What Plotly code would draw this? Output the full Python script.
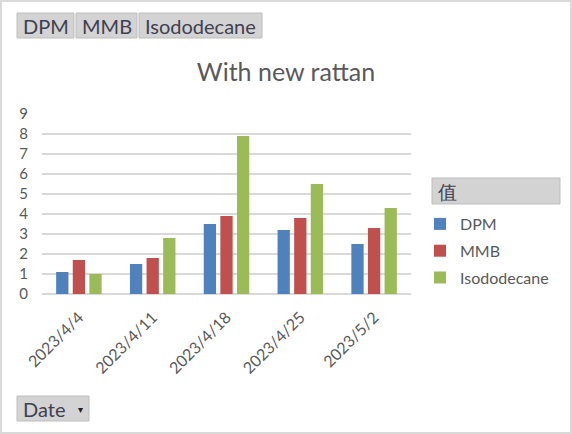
import plotly.graph_objects as go

dates = ["2023/4/4", "2023/4/11", "2023/4/18", "2023/4/25", "2023/5/2"]
dpm = [1.1, 1.5, 3.5, 3.2, 2.5]
mmb = [1.7, 1.8, 3.9, 3.8, 3.3]
isododecane = [1.0, 2.8, 7.9, 5.5, 4.3]

W, H = 572, 434
L, R, T, B = 42, 161, 114, 140
FONT = "Lato"
TXT = "#595959"


def px(x):
    return (x - L) / (W - L - R)


def py(y):
    return (H - B - y) / (H - T - B)


fig = go.Figure()
series = [("DPM", dpm, "#4F81BD"), ("MMB", mmb, "#C0504D"),
          ("Isododecane", isododecane, "#9BBB59")]
for name, vals, col in series:
    fig.add_trace(go.Bar(x=dates, y=vals, name=name, marker_color=col,
                         marker_line_width=0, legendgroup=name))

shapes = []
annots = []


def button(x0, y0, x1, y1, text, fs=20, arrow=False):
    shapes.append(dict(type="rect", xref="paper", yref="paper",
                       x0=px(x0), x1=px(x1), y0=py(y1), y1=py(y0),
                       fillcolor="#d3d3d3", line=dict(color="#bdbdbd", width=1)))
    annots.append(dict(xref="paper", yref="paper", x=px(x0 + 4), y=py((y0 + y1) / 2),
                       xanchor="left", yanchor="middle", text=text, showarrow=False,
                       font=dict(family=FONT, size=fs, color="#404050")))
    if arrow:
        annots.append(dict(xref="paper", yref="paper", x=px(x1 - 9), y=py((y0 + y1) / 2),
                           xanchor="center", yanchor="middle", text="▾", showarrow=False,
                           font=dict(size=10, color="#202020")))


button(17, 13, 74, 38, "DPM")
button(76, 13, 137, 38, "MMB")
button(139, 13, 262, 38, "Isododecane")
button(17, 396, 89, 421, "Date", arrow=True)
button(432, 178, 560, 204, "值", fs=19)

# outer frame
shapes.append(dict(type="rect", xref="paper", yref="paper",
                   x0=px(1), x1=px(W - 1), y0=py(H - 1), y1=py(1),
                   line=dict(color="#d9d9d9", width=2), layer="below"))

fig.update_layout(
    width=W, height=H,
    margin=dict(l=L, r=R, t=T, b=B),
    paper_bgcolor="white", plot_bgcolor="white",
    font=dict(family=FONT, color=TXT, size=15),
    title=dict(text="With new rattan", x=0.5, xref="container", xanchor="center",
               y=1 - 72 / H, yanchor="middle", font=dict(size=25, color=TXT)),
    barmode="group", bargap=0.325, bargroupgap=0.26,
    showlegend=True,
    legend=dict(x=px(420), y=py(207), xanchor="left", yanchor="top",
                font=dict(size=16, color=TXT), tracegroupgap=3,
                itemwidth=30, bgcolor="rgba(0,0,0,0)"),
    shapes=shapes, annotations=annots,
    xaxis=dict(type="category", tickangle=-45, showgrid=False, showline=False,
               ticks="", ticklabelstandoff=10, tickfont=dict(size=16, color=TXT)),
    yaxis=dict(range=[0, 9], dtick=1, showgrid=True, gridcolor="#d9d9d9", gridwidth=2,
               zeroline=True, zerolinecolor="#d9d9d9", zerolinewidth=2,
               showline=False, ticks="", ticklabelstandoff=13,
               tickfont=dict(size=15, color=TXT)),
)

fig.write_html("out.html", config={"displayModeBar": False},
               post_script="document.body.style.margin='0';")
